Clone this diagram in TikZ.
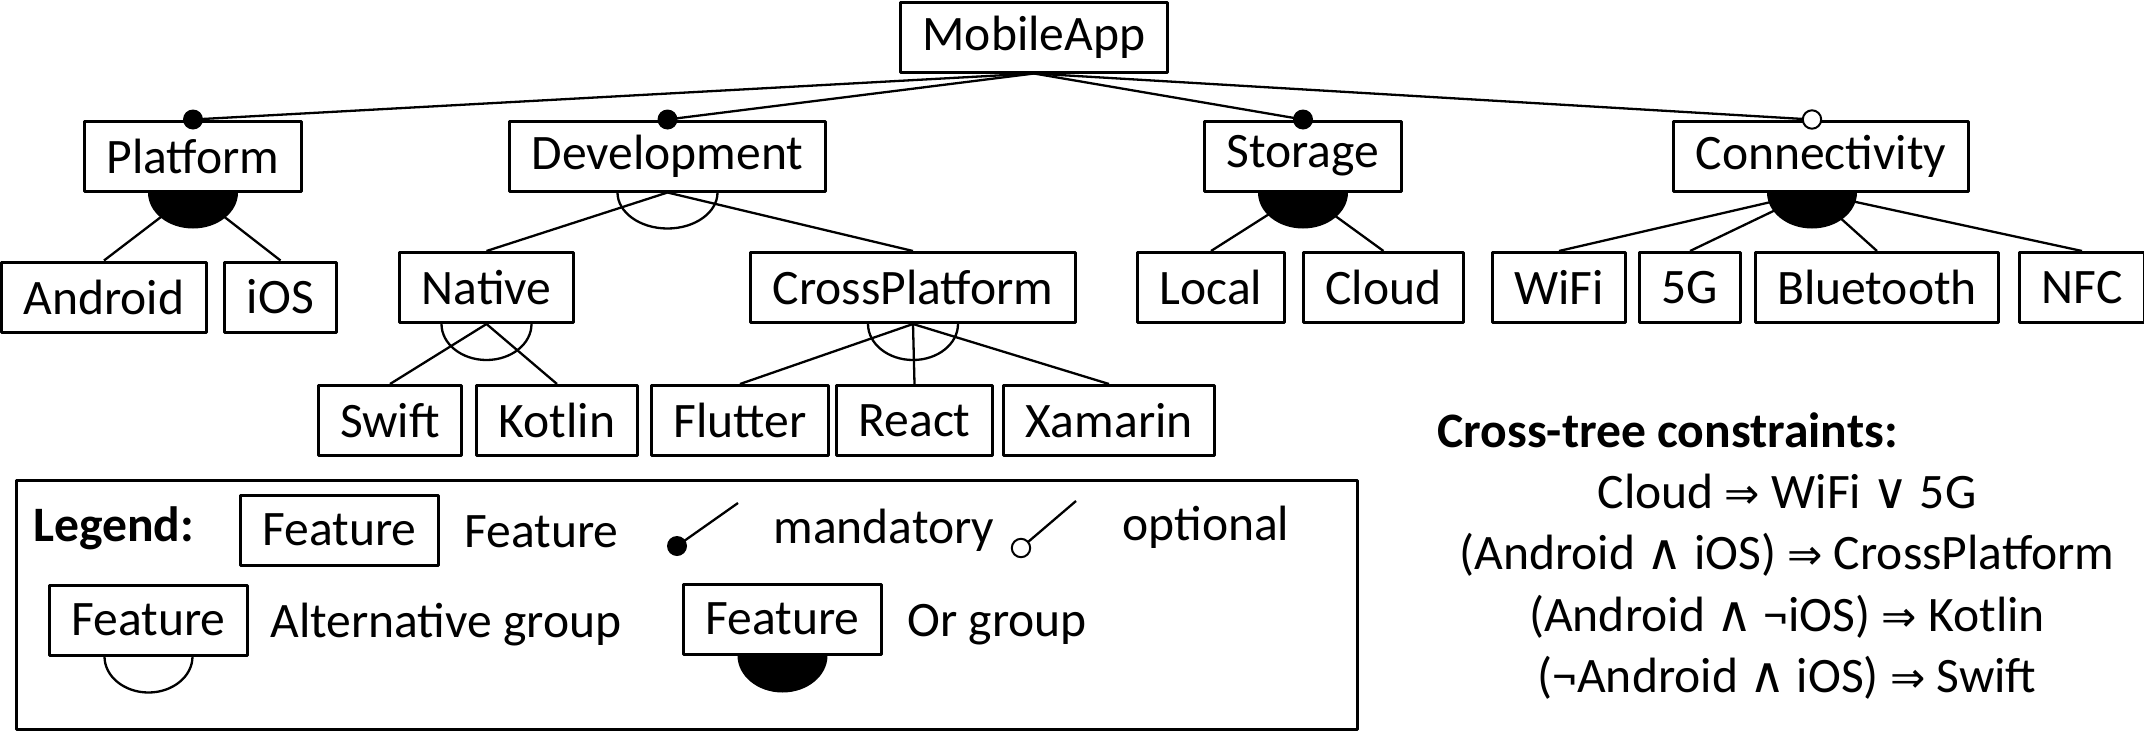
\documentclass[tikz,border=0pt]{standalone}
\usepackage{fontspec}
\setmainfont{Carlito}
\newfontfamily\symfont{DejaVu Sans}[Scale=0.85]
\newfontfamily\logfont{DejaVu Sans}[Scale=1.0]
\newcommand{\impsym}{{\symfont ⇒}}
\newcommand{\andsym}{{\logfont ∧}}
\newcommand{\orsym}{{\logfont ∨}}
\tikzset{
  feat/.style={draw, line width=1.5pt, inner xsep=11pt, minimum height=35pt},
  link/.style={line width=1.15pt},
}
\begin{document}
\begin{tikzpicture}[x=0.5pt, y=-0.5pt, font=\fontsize{24.8}{29}\selectfont, line join=round]
\useasboundingbox (0,0) rectangle (2144,734);
% features
\node[feat] (MobileApp) at (1034,37) {MobileApp};
\node[feat] (Platform) at (193,156) {Platform};
\node[feat] (Development) at (667.5,156) {Development};
\node[feat] (Storage) at (1303,156) {Storage};
\node[feat] (Connectivity) at (1821,156) {Connectivity};
\node[feat] (Android) at (104,297) {Android};
\node[feat] (iOS) at (280.5,297) {iOS};
\node[feat] (Native) at (486.5,287.5) {Native};
\node[feat] (CrossPlatform) at (913,287.5) {CrossPlatform};
\node[feat] (Local) at (1211,287.5) {Local};
\node[feat] (Cloud) at (1383.5,287.5) {Cloud};
\node[feat] (WiFi) at (1559,287.5) {WiFi};
\node[feat] (FiveG) at (1690,287.5) {5G};
\node[feat] (Bluetooth) at (1877,287.5) {Bluetooth};
\node[feat] (NFC) at (2082,287.5) {NFC};
\node[feat] (Swift) at (390,420.5) {Swift};
\node[feat] (Kotlin) at (557,420.5) {Kotlin};
\node[feat] (Flutter) at (740,420.5) {Flutter};
\node[feat] (React) at (914.5,420.5) {React};
\node[feat] (Xamarin) at (1109,420.5) {Xamarin};
\coordinate (connTop) at ([xshift=-4.5pt]Connectivity.north);
\coordinate (connBot) at ([xshift=-4.5pt]Connectivity.south);
% root links
\draw[link] (MobileApp.south) -- (Platform.north);
\draw[link] (MobileApp.south) -- (Development.north);
\draw[link] (MobileApp.south) -- (Storage.north);
\draw[link] (MobileApp.south) -- (connTop);
\fill (Platform.north) circle[radius=5pt];
\fill (Development.north) circle[radius=5pt];
\fill (Storage.north) circle[radius=5pt];
\draw[line width=1pt, fill=white] (connTop) circle[radius=4.6pt];
% or groups
\draw[link] (Platform.south) -- (Android.north) (Platform.south) -- (iOS.north);
\fill (Platform.south) ++(-22.5pt,0) arc[start angle=180, end angle=360, x radius=22.5pt, y radius=18pt] -- cycle;
\draw[link] (Storage.south) -- (Local.north) (Storage.south) -- (Cloud.north);
\fill (Storage.south) ++(-22.5pt,0) arc[start angle=180, end angle=360, x radius=22.5pt, y radius=18pt] -- cycle;
\draw[link] (connBot) -- (WiFi.north) (connBot) -- (FiveG.north) (connBot) -- (Bluetooth.north) (connBot) -- (NFC.north);
\fill (connBot) ++(-22.5pt,0) arc[start angle=180, end angle=360, x radius=22.5pt, y radius=18pt] -- cycle;
% alternative groups
\draw[link] (Development.south) -- (Native.north) (Development.south) -- (CrossPlatform.north);
\draw[link] (Development.south) ++(-25pt,0) arc[start angle=180, end angle=360, x radius=25pt, y radius=18pt];
\draw[link] (Native.south) -- (Swift.north) (Native.south) -- (Kotlin.north);
\draw[link] (Native.south) ++(-22.5pt,0) arc[start angle=180, end angle=360, x radius=22.5pt, y radius=18pt];
\draw[link] (CrossPlatform.south) -- (Flutter.north) (CrossPlatform.south) -- (React.north) (CrossPlatform.south) -- (Xamarin.north);
\draw[link] (CrossPlatform.south) ++(-22.5pt,0) arc[start angle=180, end angle=360, x radius=22.5pt, y radius=18pt];
% legend
\draw[line width=1.5pt] (16,480) rectangle (1357,729);
\node[anchor=base west, inner sep=0] (legTitle) at (33,541) {\textbf{Legend:}};
\node[feat] (legFeat) at (339.5,530) {Feature};
\node[anchor=base west, inner sep=0] (legFeatTxt) at (464,547) {Feature};
\coordinate (mandA) at (677,546);
\coordinate (mandB) at (738,503);
\draw[link] (mandA) -- (mandB);
\fill (mandA) circle[radius=5pt];
\node[anchor=base west, inner sep=0] (legMand) at (773,543) {mandatory};
\coordinate (optA) at (1021,548);
\coordinate (optB) at (1076,501);
\draw[link] (optA) -- (optB);
\draw[line width=1pt, fill=white] (optA) circle[radius=4.6pt];
\node[anchor=base west, inner sep=0] (legOpt) at (1122,540) {optional};
\node[feat] (legAlt) at (148.5,620) {Feature};
\draw[link] (legAlt.south) ++(-22pt,0) arc[start angle=180, end angle=360, x radius=22pt, y radius=18pt];
\node[anchor=base west, inner sep=0] (legAltTxt) at (270,637) {Alternative group};
\node[feat] (legOr) at (782.5,619) {Feature};
\fill (legOr.south) ++(-22.5pt,0) arc[start angle=180, end angle=360, x radius=22.5pt, y radius=18.5pt] -- cycle;
\node[anchor=base west, inner sep=0] (legOrTxt) at (907,636) {Or group};
% cross-tree constraints
\node[anchor=base west, inner sep=0] (ctTitle) at (1437,447) {\textbf{Cross-tree constraints:}};
\node[anchor=base, inner sep=0] (ct1) at (1787,508) {Cloud \impsym{} WiFi \orsym{} 5G};
\node[anchor=base, inner sep=0] (ct2) at (1787,569) {(Android \andsym{} iOS) \impsym{} CrossPlatform};
\node[anchor=base, inner sep=0] (ct3) at (1787,631) {(Android \andsym{} ¬iOS) \impsym{} Kotlin};
\node[anchor=base, inner sep=0] (ct4) at (1787,692) {(¬Android \andsym{} iOS) \impsym{} Swift};
\end{tikzpicture}
\end{document}
